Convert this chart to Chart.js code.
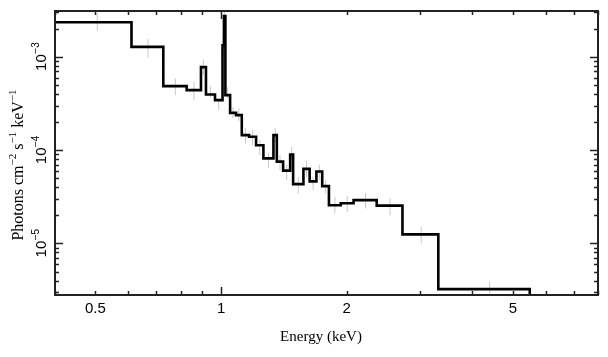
<!DOCTYPE html>
<html>
<head>
<meta charset="utf-8">
<script src="https://cdn.jsdelivr.net/npm/chart.js@4/dist/chart.umd.min.js"></script>
<style>
html,body{margin:0;padding:0;background:#fff;}
#wrap{width:608px;height:357px;}
</style>
</head>
<body>
<div id="wrap"><canvas id="c" width="608" height="357"></canvas></div>
<script>
// Bin edges (keV) of the step model
const binEdges = [0.40, 0.61, 0.727, 0.827, 0.895, 0.92, 0.967, 1.008, 1.016, 1.024, 1.051, 1.086, 1.121, 1.167, 1.213, 1.263, 1.335, 1.36, 1.408, 1.464, 1.488, 1.575, 1.63, 1.692, 1.747, 1.813, 1.935, 2.077, 2.36, 2.72, 3.315, 5.49];
// Model value in each bin (photons cm^-2 s^-1 keV^-1)
const modelValues = [2.35e-3, 1.28e-3, 4.85e-4, 4.40e-4, 7.75e-4, 3.95e-4, 3.44e-4, 1.33e-3, 2.73e-3, 3.89e-4, 2.51e-4, 2.37e-4, 1.45e-4, 1.39e-4, 1.13e-4, 8.15e-5, 1.45e-4, 7.53e-5, 6.03e-5, 8.95e-5, 4.32e-5, 6.30e-5, 4.63e-5, 5.91e-5, 4.11e-5, 2.57e-5, 2.70e-5, 2.91e-5, 2.54e-5, 1.25e-5, 3.24e-6];
// Data error bars: energy, lower, upper
const errEnergy = [0.505, 0.668, 0.777, 0.861, 0.907, 0.943, 0.987, 1.012, 1.020, 1.037, 1.068, 1.103, 1.144, 1.190, 1.238, 1.299, 1.348, 1.384, 1.436, 1.476, 1.531, 1.602, 1.661, 1.719, 1.780, 1.874, 2.006, 2.218, 2.54, 3.017, 4.40];
const errLow = [1.90e-3, 0.98e-3, 3.89e-4, 3.44e-4, 6.37e-4, 3.67e-4, 2.68e-4, 1.0e-3, 2.0e-3, 3.61e-4, 2.19e-4, 2.05e-4, 1.19e-4, 1.13e-4, 8.84e-5, 6.41e-5, 1.23e-4, 6.10e-5, 4.77e-5, 7.81e-5, 3.43e-5, 5.17e-5, 3.73e-5, 4.77e-5, 3.43e-5, 2.10e-5, 2.18e-5, 2.37e-5, 2.01e-5, 1.0e-5, 2.91e-6];
const errHigh = [2.94e-3, 1.55e-3, 5.87e-4, 5.40e-4, 9.38e-4, 4.85e-4, 3.49e-4, 1.7e-3, 4.5e-3, 4.73e-4, 2.91e-4, 2.82e-4, 1.72e-4, 1.64e-4, 1.28e-4, 9.29e-5, 1.72e-4, 8.84e-5, 6.91e-5, 1.085e-4, 5.17e-5, 7.68e-5, 5.17e-5, 7.03e-5, 4.77e-5, 3.16e-5, 3.21e-5, 3.49e-5, 3.04e-5, 1.51e-5, 3.88e-6];
// Axis ranges and labelled ticks
const xRange = [0.4, 8];
const yRange = [2.8e-6, 3.1e-3];
const xTickLabels = [0.5, 1, 2, 5];
const yTickExponents = [-3, -4, -5];
const xTitle = "Energy (keV)";

// step line points
const stepPts = [];
for (let i = 0; i < modelValues.length; i++) stepPts.push({x: binEdges[i], y: modelValues[i]});
stepPts.push({x: binEdges[binEdges.length - 1], y: 1e-8});
// error bar segments
const errPts = [];
for (let i = 0; i < errEnergy.length; i++) {
  errPts.push({x: errEnergy[i], y: errLow[i]});
  errPts.push({x: errEnergy[i], y: errHigh[i]});
  errPts.push({x: errEnergy[i], y: null});
}

const framePlugin = {
  id: 'frame',
  afterDraw(chart) {
    const ctx = chart.ctx, xs = chart.scales.x, ys = chart.scales.y, a = chart.chartArea;
    ctx.save();
    ctx.strokeStyle = '#222';
    ctx.lineWidth = 2;
    ctx.strokeRect(a.left, a.top, a.right - a.left, a.bottom - a.top);
    ctx.lineWidth = 1.5;
    // ticks on all four sides, pointing inward
    ctx.beginPath();
    for (const d of [0.1, 1, 10]) for (let m = 1; m <= 9; m++) {
      const v = m * d;
      if (v < xRange[0] * 0.999 || v > xRange[1] * 1.001) continue;
      const px = Math.round(xs.getPixelForValue(v)) + 0.5;
      const len = m === 1 ? 8 : 4;
      ctx.moveTo(px, a.bottom); ctx.lineTo(px, a.bottom - len);
      ctx.moveTo(px, a.top); ctx.lineTo(px, a.top + len);
    }
    for (const d of [1e-6, 1e-5, 1e-4, 1e-3]) for (let m = 1; m <= 9; m++) {
      const v = m * d;
      if (v < yRange[0] || v > yRange[1]) continue;
      const py = Math.round(ys.getPixelForValue(v)) + 0.5;
      const len = m === 1 ? 8 : 4;
      ctx.moveTo(a.left, py); ctx.lineTo(a.left + len, py);
      ctx.moveTo(a.right, py); ctx.lineTo(a.right - len, py);
    }
    ctx.stroke();
    // x tick labels
    ctx.fillStyle = '#000';
    ctx.font = '15px "Liberation Sans", Arial, sans-serif';
    ctx.textAlign = 'center';
    ctx.textBaseline = 'alphabetic';
    for (const v of xTickLabels) {
      ctx.fillText(String(v), xs.getPixelForValue(v), a.bottom + 18);
    }
    // y tick labels (rotated)
    for (const e of yTickExponents) {
      const py = ys.getPixelForValue(Math.pow(10, e));
      ctx.save();
      ctx.translate(40, py);
      ctx.rotate(-Math.PI / 2);
      ctx.textAlign = 'left';
      ctx.font = '15px "Liberation Sans", Arial, sans-serif';
      const w1 = ctx.measureText('10').width;
      ctx.font = '10px "Liberation Sans", Arial, sans-serif';
      const sup = '\u2212' + String(-e);
      const w2 = ctx.measureText(sup).width;
      const x0 = -(w1 + w2) / 2;
      ctx.font = '15px "Liberation Sans", Arial, sans-serif';
      ctx.fillText('10', x0, 5.5);
      ctx.font = '10px "Liberation Sans", Arial, sans-serif';
      ctx.fillText(sup, x0 + w1 + 0.5, -1);
      ctx.restore();
    }
    // x title
    ctx.font = '15px "Liberation Serif", "Times New Roman", serif';
    ctx.textAlign = 'center';
    ctx.fillText(xTitle, 321, 341);
    // y title with superscripts
    const parts = [['Photons cm', 0], ['\u22122', 1], [' s', 0], ['\u22121', 1], [' keV', 0], ['\u22121', 1]];
    const fBig = '16px "Liberation Serif", "Times New Roman", serif';
    const fSup = '11px "Liberation Serif", "Times New Roman", serif';
    let tot = 0;
    for (const [t, s] of parts) { ctx.font = s ? fSup : fBig; tot += ctx.measureText(t).width; }
    ctx.save();
    ctx.translate(18, 165);
    ctx.rotate(-Math.PI / 2);
    ctx.textAlign = 'left';
    let x = -tot / 2;
    for (const [t, s] of parts) {
      ctx.font = s ? fSup : fBig;
      ctx.fillText(t, x, s ? -2 : 4.5);
      x += ctx.measureText(t).width;
    }
    ctx.restore();
    ctx.restore();
  }
};

new Chart(document.getElementById('c'), {
  type: 'line',
  data: {
    datasets: [
      {
        data: stepPts,
        stepped: 'before',
        borderColor: '#000',
        borderWidth: 2.6,
        pointRadius: 0,
        fill: false,
        tension: 0
      },
      {
        data: errPts,
        borderColor: '#c8c8c8',
        borderWidth: 1,
        pointRadius: 0,
        spanGaps: false,
        fill: false,
        tension: 0
      }
    ]
  },
  options: {
    responsive: false,
    devicePixelRatio: 1,
    animation: false,
    layout: {padding: {left: 55, top: 11, right: 10, bottom: 62}},
    plugins: {legend: {display: false}, tooltip: {enabled: false}},
    scales: {
      x: {type: 'logarithmic', min: xRange[0], max: xRange[1], display: false},
      y: {type: 'logarithmic', min: yRange[0], max: yRange[1], display: false}
    }
  },
  plugins: [framePlugin]
});
</script>
</body>
</html>
